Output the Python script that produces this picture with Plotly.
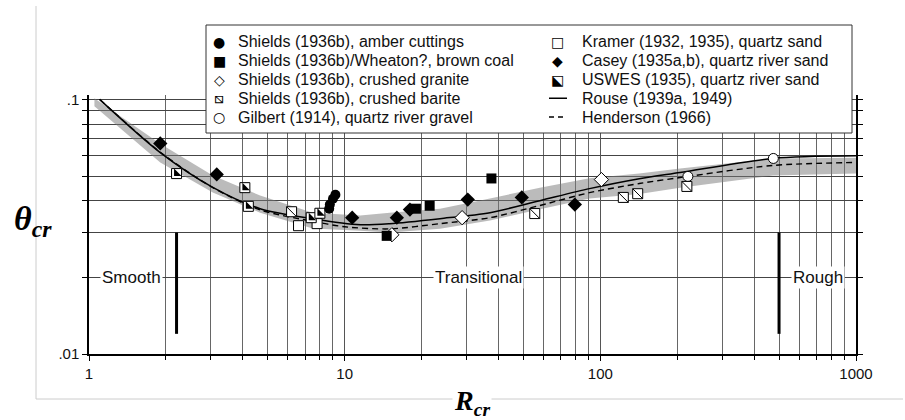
import math
import plotly.graph_objects as go

# ---------------- data ----------------
amber_R = [8.7, 8.75, 9.0, 9.2]
amber_theta = [0.0372, 0.0386, 0.0407, 0.0422]

wheaton_R = [14.6, 19.0, 21.5, 37.5]
wheaton_theta = [0.0291, 0.0372, 0.0382, 0.0489]

granite_R = [15.3, 28.8, 101.0]
granite_theta = [0.0294, 0.0343, 0.0484]

barite_R = [6.2, 55.4, 123.0, 140.0, 218.0]
barite_theta = [0.0362, 0.0356, 0.0412, 0.0426, 0.0455]

gilbert_R = [220.0, 475.0]
gilbert_theta = [0.0498, 0.0586]

kramer_R = [6.6, 7.8]
kramer_theta = [0.0319, 0.0325]

casey_R = [1.9, 3.16, 10.7, 16.0, 18.0, 30.3, 49.3, 79.5]
casey_theta = [0.0671, 0.0507, 0.0343, 0.0343, 0.0369, 0.0404, 0.0412, 0.0386]

uswes_R = [2.2, 4.07, 4.2, 7.4, 8.0]
uswes_theta = [0.0511, 0.0450, 0.0380, 0.0343, 0.0357]

rouse_R = [1.1, 1.9, 3.05, 4.67, 7.5, 11.5, 15, 23.6, 37, 58, 90.7, 142, 205, 472, 1000]
rouse_theta = [0.100, 0.0618, 0.0451, 0.0372, 0.0340, 0.0322, 0.0325, 0.0340, 0.0359,
               0.0400, 0.0446, 0.0488, 0.0516, 0.0586, 0.0600]

henderson_R = [1.1, 1.9, 3.05, 4.67, 7.5, 10, 15, 23.6, 37, 58, 90.7, 142, 205, 472, 1000]
henderson_theta = [0.100, 0.0620, 0.0450, 0.0368, 0.0332, 0.0316, 0.0310, 0.0325, 0.0343,
                   0.0383, 0.0430, 0.0467, 0.0493, 0.0550, 0.0565]

band_R = [1.05, 1.9, 3.05, 4.67, 7.5, 11.5, 15, 23.6, 37, 58, 90.7, 142, 205, 472, 1000]
band_hi = [0.101, 0.0670, 0.0502, 0.0419, 0.0359, 0.0350, 0.0359, 0.0372, 0.0408,
           0.0450, 0.0490, 0.0512, 0.0535, 0.0586, 0.0590]
band_lo = [0.094, 0.0565, 0.0431, 0.0359, 0.0311, 0.0305, 0.0300, 0.0310, 0.0334,
           0.0370, 0.0408, 0.0425, 0.0450, 0.0502, 0.0512]

regime_R = [2.2, 500]
regime_theta = [0.012, 0.030]

x_major = [1, 10, 100, 1000]
x_major_text = ["1", "10", "100", "1000"]
x_minor = [m * 10 ** e for e in range(0, 3) for m in range(2, 10)]
y_major = [0.01, 0.1]
y_major_text = [".01", ".1"]
y_minor = [round(0.01 * m, 2) for m in range(2, 10)]

legend_col1 = ["Shields (1936b), amber cuttings",
               "Shields (1936b)/Wheaton?, brown coal",
               "Shields (1936b), crushed granite",
               "Shields (1936b), crushed barite",
               "Gilbert (1914), quartz river gravel"]
legend_col2 = ["Kramer (1932, 1935), quartz sand",
               "Casey (1935a,b), quartz river sand",
               "USWES (1935), quartz river sand",
               "Rouse (1939a, 1949)",
               "Henderson (1966)"]
keys_col1 = ["●", "■", "◇", "⧅", "○"]
keys_col2 = ["□", "◆", "⬕", "", ""]

# ---------------- geometry helpers ----------------
PL, PR, PT, PB = 89, 856, 95, 354
W, H = 905, 420


def px_x(px):
    return (px - PL) / (PR - PL)


def px_y(py):
    return (PB - py) / (PB - PT)


TXT = "Liberation Sans, Arial, sans-serif"

fig = go.Figure()

# shaded band
fig.add_trace(go.Scatter(
    x=band_R + band_R[::-1], y=band_hi + band_lo[::-1],
    fill="toself", fillcolor="rgba(120,120,120,0.5)",
    line=dict(width=0), mode="lines", hoverinfo="skip", showlegend=False))

# curves
fig.add_trace(go.Scatter(x=henderson_R, y=henderson_theta, mode="lines",
                         line=dict(color="black", width=1.4, dash="6px,4px", shape="spline", smoothing=0.8),
                         showlegend=False))
fig.add_trace(go.Scatter(x=rouse_R, y=rouse_theta, mode="lines",
                         line=dict(color="black", width=1.5, shape="spline", smoothing=0.8),
                         showlegend=False))

# regime bars
bar_x, bar_y = [], []
for r in regime_R:
    bar_x += [r, r, None]
    bar_y += [regime_theta[0], regime_theta[1], None]
fig.add_trace(go.Scatter(x=bar_x, y=bar_y, mode="lines",
                         line=dict(color="black", width=3), showlegend=False))

BL = dict(color="black", width=1)


def pts(x, y, symbol, color, size=10, line=BL):
    fig.add_trace(go.Scatter(x=x, y=y, mode="markers", showlegend=False,
                             marker=dict(symbol=symbol, color=color, size=size, line=line)))


pts(gilbert_R, gilbert_theta, "circle", "white")
pts(kramer_R, kramer_theta, "square", "white", 10)
pts(barite_R, barite_theta, "square", "white", 10)
pts(barite_R, barite_theta, "line-nw", "black", 10, dict(color="black", width=1))
pts(granite_R, granite_theta, "diamond", "white", 11)
pts(uswes_R, uswes_theta, "square", "white", 10)
pts(uswes_R, uswes_theta, "triangle-sw", "black", 8.3, dict(width=0))
pts(casey_R, casey_theta, "diamond", "black", 11, dict(width=0))
pts(wheaton_R, wheaton_theta, "square", "black", 10, dict(width=0))
pts(amber_R, amber_theta, "circle", "black", 10, dict(width=0))

annotations = []
shapes = []

# regime labels
for txt, r in [("Smooth", 1.46), ("Transitional", 33.5), ("Rough", 710)]:
    annotations.append(dict(x=math.log10(r), y=math.log10(0.02), xref="x", yref="y",
                            text=txt, showarrow=False, bgcolor="white",
                            font=dict(family=TXT, size=17, color="#111")))

# axis titles
annotations.append(dict(x=px_x(12), y=px_y(221), xref="paper", yref="paper", xanchor="left", yanchor="middle",
                        text="<b><i>θ</i></b><sub><b><i>cr</i></b></sub>", showarrow=False,
                        font=dict(family="Liberation Serif, DejaVu Serif, serif", size=34, color="black")))
annotations.append(dict(x=px_x(472), y=px_y(402), xref="paper", yref="paper", xanchor="center", yanchor="middle",
                        text="<b><i>R</i></b><sub><b><i>cr</i></b></sub>", showarrow=False, bgcolor="white",
                        font=dict(family="Liberation Serif, DejaVu Serif, serif", size=28, color="black")))

# outer light frame
shapes.append(dict(type="line", xref="paper", yref="paper", x0=px_x(36), x1=px_x(36), y0=px_y(6), y1=px_y(399),
                   line=dict(color="#cccccc", width=1)))
shapes.append(dict(type="line", xref="paper", yref="paper", x0=px_x(36), x1=px_x(903), y0=px_y(399), y1=px_y(399),
                   line=dict(color="#cccccc", width=1), layer="below"))

# legend box
LX0, LX1, LY0, LY1 = 206, 852, 25, 133
shapes.append(dict(type="rect", xref="paper", yref="paper", x0=px_x(LX0), x1=px_x(LX1), y0=px_y(LY0), y1=px_y(LY1),
                   line=dict(color="#333", width=1), fillcolor="white", layer="above"))
rows = [42, 60.75, 79.5, 98.25, 117]
for i, (t1, t2) in enumerate(zip(legend_col1, legend_col2)):
    y = px_y(rows[i])
    annotations.append(dict(x=px_x(236), y=y, xref="paper", yref="paper", xanchor="left", yanchor="middle",
                            text=t1, showarrow=False, font=dict(family=TXT, size=16, color="#111")))
    annotations.append(dict(x=px_x(580), y=y, xref="paper", yref="paper", xanchor="left", yanchor="middle",
                            text=t2, showarrow=False, font=dict(family=TXT, size=16, color="#111")))
    annotations.append(dict(x=px_x(219), y=y, xref="paper", yref="paper", xanchor="center", yanchor="middle",
                            text=keys_col1[i], showarrow=False,
                            font=dict(family="DejaVu Sans, sans-serif", size=14, color="black")))
    if keys_col2[i]:
        annotations.append(dict(x=px_x(557), y=y, xref="paper", yref="paper", xanchor="center", yanchor="middle",
                                text=keys_col2[i], showarrow=False,
                                font=dict(family="DejaVu Sans, sans-serif", size=14, color="black")))
shapes.append(dict(type="line", xref="paper", yref="paper", x0=px_x(549), x1=px_x(567),
                   y0=px_y(rows[3]), y1=px_y(rows[3]), line=dict(color="black", width=1.5), layer="above"))
shapes.append(dict(type="line", xref="paper", yref="paper", x0=px_x(549), x1=px_x(567),
                   y0=px_y(rows[4]), y1=px_y(rows[4]), line=dict(color="black", width=1.5, dash="5px,4px"),
                   layer="above"))

fig.update_layout(
    width=W, height=H,
    margin=dict(l=PL, r=W - PR, t=PT, b=H - PB),
    paper_bgcolor="white", plot_bgcolor="white",
    showlegend=False,
    annotations=annotations, shapes=shapes,
    font=dict(family=TXT, size=15, color="#111"),
)
fig.update_xaxes(type="log", range=[0, 3], tickmode="array", tickvals=x_major, ticktext=x_major_text,
                 showgrid=True, gridcolor="#555", gridwidth=1,
                 minor=dict(tickmode="array", tickvals=x_minor, ticks="outside", ticklen=4,
                            tickcolor="black", showgrid=True, gridcolor="#666", gridwidth=1),
                 showline=True, linecolor="black", linewidth=2, mirror=False,
                 ticks="outside", ticklen=5, tickcolor="black", tickwidth=1,
                 tickfont=dict(family=TXT, size=15, color="#111"), zeroline=False)
fig.update_yaxes(type="log", range=[-2, math.log10(0.104)], tickmode="array", tickvals=y_major, ticktext=y_major_text,
                 showgrid=True, gridcolor="#444", gridwidth=1,
                 minor=dict(tickmode="array", tickvals=y_minor, ticks="outside", ticklen=5,
                            tickcolor="black", showgrid=True, gridcolor="#444", gridwidth=1),
                 showline=True, linecolor="black", linewidth=1.5, mirror="allticks",
                 ticks="outside", ticklen=5, tickcolor="black", tickwidth=1,
                 tickfont=dict(family=TXT, size=15, color="#111"), zeroline=False)

fig.write_html("out.html", config={"displayModeBar": False},
               post_script="document.body.style.margin='0px';")
